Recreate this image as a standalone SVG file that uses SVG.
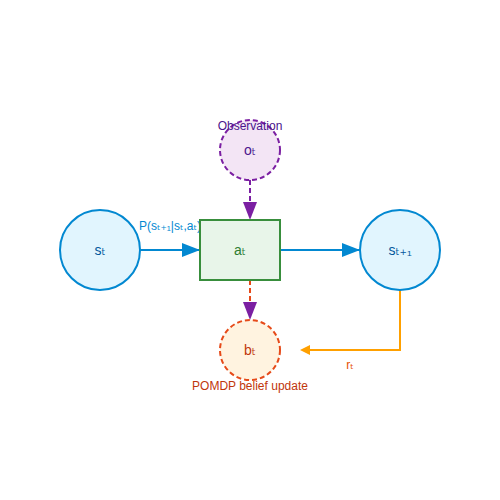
<svg xmlns="http://www.w3.org/2000/svg" width="500" height="500" viewBox="0 0 500 500">
<style>
text{font-family:"Liberation Sans",Arial,"DejaVu Sans",sans-serif;text-anchor:middle}
.state{fill:#e1f5fe;stroke:#0288d1;stroke-width:2}
.stxt{font-size:14px;fill:#01579b}
.lbl{font-size:12px}
</style>
<defs>
<marker id="ab" viewBox="0 0 10 10" refX="10" refY="5" markerWidth="9" markerHeight="7" markerUnits="userSpaceOnUse" orient="auto" preserveAspectRatio="none"><path d="M0,0L10,5L0,10z" fill="#0288d1"/></marker>
<marker id="ap" viewBox="0 0 10 10" refX="10" refY="5" markerWidth="9" markerHeight="7" markerUnits="userSpaceOnUse" orient="auto" preserveAspectRatio="none"><path d="M0,0L10,5L0,10z" fill="#7b1fa2"/></marker>
<marker id="ao" viewBox="0 0 10 10" refX="0" refY="5" markerWidth="10" markerHeight="8" markerUnits="userSpaceOnUse" orient="auto" preserveAspectRatio="none"><path d="M10,0L0,5L10,10z" fill="#ffa000"/></marker>
</defs>
<g id="connectors">
<line x1="140" y1="250" x2="200" y2="250" stroke="#0288d1" stroke-width="2"/>
<path d="M182,243L200,250L182,257z" fill="#0288d1"/>
<line x1="280" y1="250" x2="360" y2="250" stroke="#0288d1" stroke-width="2"/>
<path d="M342,243L360,250L342,257z" fill="#0288d1"/>
<line x1="250" y1="180" x2="250" y2="204" stroke="#7b1fa2" stroke-width="2" stroke-dasharray="5,3"/>
<path d="M243,202L250,220L257,202z" fill="#7b1fa2"/>
<line x1="250" y1="280" x2="250" y2="304" stroke="#e64a19" stroke-width="2" stroke-dasharray="5,3"/>
<path d="M243,302L250,320L257,302z" fill="#7b1fa2"/>
<polyline points="400,290 400,350 308,350" fill="none" stroke="#ffa000" stroke-width="2"/>
<path d="M310,345L300,350L310,355z" fill="#ffa000"/>
<text class="lbl" x="170" y="230" fill="#0288d1">P(sₜ₊₁|sₜ,aₜ)</text>
<text class="lbl" x="350" y="369" fill="#e65100">rₜ</text>
</g>
<g id="s_t">
<circle class="state" cx="100" cy="250" r="40"/>
<text class="stxt" x="100" y="255">sₜ</text>
</g>
<g id="a_t">
<rect x="200" y="220" width="80" height="60" fill="#e8f5e9" stroke="#388e3c" stroke-width="2"/>
<text x="240" y="255" font-size="14" fill="#2e7d32">aₜ</text>
</g>
<g id="s_t1">
<circle class="state" cx="400" cy="250" r="40"/>
<text class="stxt" x="400" y="255">sₜ₊₁</text>
</g>
<g id="o_t">
<circle cx="250" cy="150" r="30" fill="#f3e5f5" stroke="#7b1fa2" stroke-width="2" stroke-dasharray="5,3"/>
<text x="250" y="155" font-size="14" fill="#4a148c">oₜ</text>
<text class="lbl" x="250" y="130" fill="#4a148c">Observation</text>
</g>
<g id="b_t">
<circle cx="250" cy="350" r="30" fill="#fff3e0" stroke="#e64a19" stroke-width="2" stroke-dasharray="5,3"/>
<text x="250" y="355" font-size="14" fill="#bf360c">bₜ</text>
<text class="lbl" x="250" y="390" fill="#bf360c">POMDP belief update</text>
</g>
</svg>
